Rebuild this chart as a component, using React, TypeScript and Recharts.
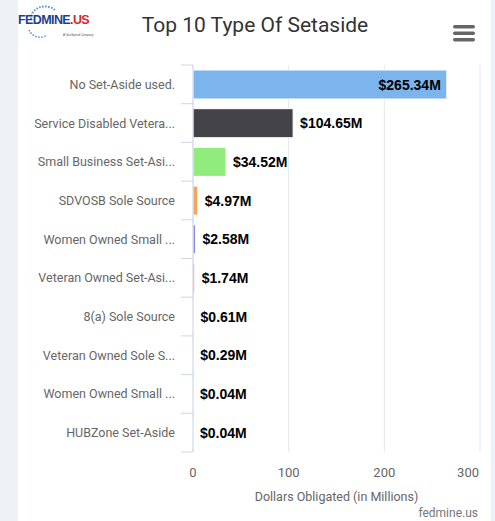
import React from "react";
import { BarChart, Bar, XAxis, YAxis, CartesianGrid, Cell, LabelList } from "recharts";

const categories = [
  "No Set-Aside used.",
  "Service Disabled Vetera...",
  "Small Business Set-Asi...",
  "SDVOSB Sole Source",
  "Women Owned Small ...",
  "Veteran Owned Set-Asi...",
  "8(a) Sole Source",
  "Veteran Owned Sole S...",
  "Women Owned Small ...",
  "HUBZone Set-Aside",
];
const values = [265.34, 104.65, 34.52, 4.97, 2.58, 1.74, 0.61, 0.29, 0.04, 0.04];
const colors = [
  "#7cb5ec", "#434348", "#90ed7d", "#f7a35c", "#8085e9",
  "#f15c80", "#e4d354", "#2b908f", "#f45b5b", "#91e8e1",
];
const xTicks = [0, 100, 200, 300];
const xTitle = "Dollars Obligated (in Millions)";
const title = "Top 10 Type Of Setaside";

const data = categories.map((name, i) => ({ name, value: values[i] }));

const W = 495;
const H = 521;
const MARGIN = { top: 65, right: 15, left: 0, bottom: 0 };
const Y_WIDTH = 193;
const PLOT_RIGHT = W - MARGIN.right;
const FONT = "Roboto, 'Noto Sans', sans-serif";

const YTick = (props: any) => {
  const { x, y, payload, index, visibleTicksCount } = props;
  const off = payload.offset || 0;
  const axisX = x + 8;
  return (
    <g>
      <line x1={axisX - 12} x2={axisX} y1={y - off} y2={y - off} stroke="#ccd6eb" />
      {index === visibleTicksCount - 1 && (
        <line x1={axisX - 12} x2={axisX} y1={y + off} y2={y + off} stroke="#ccd6eb" />
      )}
      <text x={x - 10} y={y} dy={4.5} textAnchor="end" fill="#666" fontSize={12.5} fontFamily={FONT}>
        {payload.value}
      </text>
    </g>
  );
};

const XTick = (props: any) => {
  const { x, y, payload } = props;
  const isLast = payload.value === xTicks[xTicks.length - 1];
  return (
    <text
      x={isLast ? PLOT_RIGHT - 1 : x}
      y={y}
      dy={17}
      textAnchor={isLast ? "end" : "middle"}
      fill="#666"
      fontSize={13}
      fontFamily={FONT}
    >
      {payload.value}
    </text>
  );
};

const ValueLabel = (props: any) => {
  const { x, y, width, height, value } = props;
  const end = x + width;
  const text = `$${Number(value).toFixed(2)}M`;
  const inside = end + 75 > PLOT_RIGHT;
  return (
    <text
      x={inside ? end - 6 : end + 7}
      y={y + height / 2}
      dy={5}
      textAnchor={inside ? "end" : "start"}
      fill="#000"
      fontSize={14}
      fontWeight="bold"
      fontFamily="'Liberation Sans', Arial, sans-serif"
    >
      {text}
    </text>
  );
};

export default function App() {
  return (
    <div
      style={{
        position: "absolute",
        left: 0,
        top: 0,
        width: W,
        height: H,
        background: "#eef1f6",
        overflow: "hidden",
        fontFamily: FONT,
      }}
    >
      <div style={{ position: "absolute", left: 18, top: 0, width: 473, height: H, background: "#fff" }} />
      <div style={{ position: "absolute", left: 0, top: 0 }}>
        <BarChart width={W} height={H} data={data} layout="vertical" margin={MARGIN} barSize={29}>
          <CartesianGrid horizontal={false} stroke="#e6e6e6" />
          <XAxis
            type="number"
            domain={[0, 300]}
            ticks={xTicks}
            axisLine={false}
            tickLine={false}
            height={69}
            tick={<XTick />}
            interval={0}
            label={{
              value: xTitle,
              position: "insideBottom",
              offset: 20,
              fill: "#666",
              fontSize: 12.5,
              fontFamily: FONT,
            }}
          />
          <YAxis
            type="category"
            dataKey="name"
            width={Y_WIDTH}
            axisLine={{ stroke: "#ccd6eb" }}
            tickLine={false}
            tick={<YTick />}
            interval={0}
          />
          <Bar dataKey="value" isAnimationActive={false} stroke="#fff" strokeWidth={1}>
            {data.map((_, i) => (
              <Cell key={i} fill={colors[i]} />
            ))}
            <LabelList dataKey="value" content={<ValueLabel />} />
          </Bar>
        </BarChart>
      </div>
      <div
        style={{
          position: "absolute",
          left: 0,
          width: 510,
          top: 13,
          textAlign: "center",
          fontSize: 21,
          color: "#333",
          fontFamily: FONT,
        }}
      >
        {title}
      </div>
      <svg style={{ position: "absolute", left: 17, top: 5 }} width={82} height={36}>
        <path d="M14 14 A 14 12 0 0 1 38 5" fill="none" stroke="#5b8fd6" strokeWidth={2} strokeDasharray="1.5 1.5" />
        <path d="M12 25 A 12 12 0 0 0 30 30" fill="none" stroke="#5b8fd6" strokeWidth={1.5} strokeDasharray="1.5 1.5" />
        <text x={46} y={31} fontSize={3} fill="#555" fontFamily="Arial">A GovSpend Company</text>
      </svg>
      <div
        style={{
          position: "absolute",
          left: 18,
          top: 13,
          fontSize: 12.5,
          lineHeight: "14px",
          fontWeight: "bold",
          letterSpacing: -0.6,
          color: "#1e3f8f",
          fontFamily: "'Liberation Sans', Arial, sans-serif",
          whiteSpace: "nowrap",
        }}
      >
        FEDMINE<span style={{ color: "#d7262e" }}>.US</span>
      </div>
      <svg style={{ position: "absolute", left: 452, top: 24 }} width={26} height={20}>
        <rect x={1} y={1} width={22} height={3.5} rx={1.7} fill="#666" />
        <rect x={1} y={7.5} width={22} height={3.5} rx={1.7} fill="#666" />
        <rect x={1} y={14} width={22} height={3.5} rx={1.7} fill="#666" />
      </svg>
      <div
        style={{
          position: "absolute",
          right: 17,
          top: 506,
          fontSize: 12,
          color: "#777",
          fontFamily: FONT,
        }}
      >
        fedmine.us
      </div>
    </div>
  );
}
